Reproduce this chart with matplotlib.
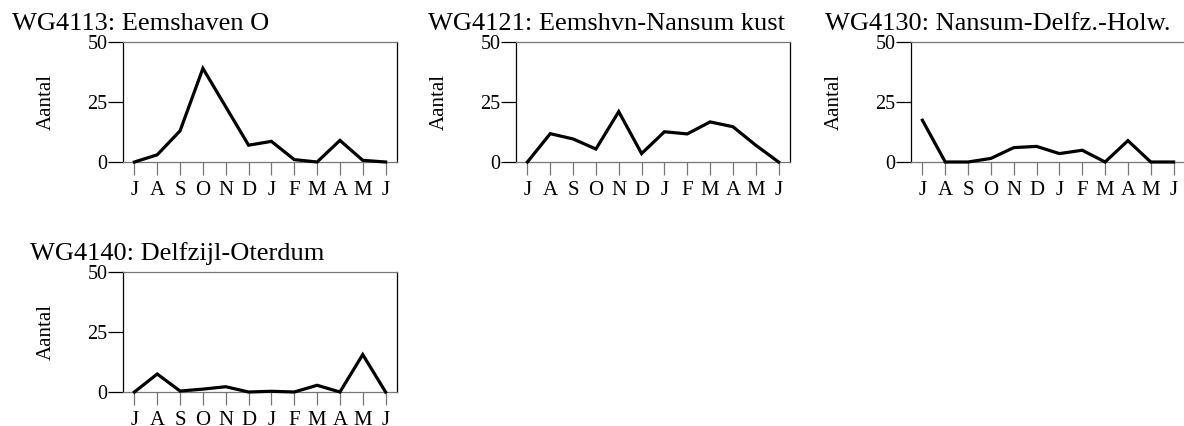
"""
Seizoensverloop per telgebied — maandelijkse aantallen.
"""

import matplotlib
matplotlib.use("Agg")
import matplotlib.pyplot as plt

plt.rcParams["font.family"] = ["Liberation Serif", "DejaVu Serif"]

months = ["J", "A", "S", "O", "N", "D", "J", "F", "M", "A", "M", "J"]

titles = [
    "WG4113: Eemshaven O",
    "WG4121: Eemshvn-Nansum kust",
    "WG4130: Nansum-Delfz.-Holw.",
    "WG4140: Delfzijl-Oterdum",
]

wg4113 = [0, 3, 13, 39, 23, 7, 8.6, 1, 0, 9, 0.7, 0]
wg4121 = [0, 11.8, 9.6, 5.4, 21, 3.5, 12.6, 11.7, 16.7, 14.7, 7, 0]
wg4130 = [17.4, 0, 0, 1.5, 6, 6.5, 3.5, 4.9, 0, 8.9, 0, 0]
wg4140 = [0, 7.5, 0.4, 1.2, 2.2, 0, 0.3, 0, 2.8, 0, 15.6, 0]

series = [wg4113, wg4121, wg4130, wg4140]

W, H = 1184, 426
# box positions in pixels: (left, top), plus title x position
boxes = [(123, 42, 12), (516, 42, 428), (911, 42, 825), (123, 272, 30)]
BOX_W, BOX_H = 274, 120

fig = plt.figure(figsize=(W / 100, H / 100), dpi=100)

for (left, top, tx), title, values in zip(boxes, titles, series):
    ax = fig.add_axes([left / W, (H - top - BOX_H) / H, BOX_W / W, BOX_H / H])
    x = list(range(len(months)))
    ax.plot(x, values, color="black", linewidth=2.3, solid_joinstyle="miter",
            clip_on=False, zorder=3)
    ax.set_xlim(-0.5, 11.5)
    ax.set_ylim(0, 50)
    ax.set_xticks(x)
    ax.set_xticklabels(months)
    ax.set_yticks([0, 25, 50])

    for side in ("top", "bottom"):
        ax.spines[side].set_color("#777777")
    for side in ("left", "right"):
        ax.spines[side].set_color("black")
    for sp in ax.spines.values():
        sp.set_linewidth(0.9)

    ax.tick_params(axis="x", length=9.4, width=0.9, color="#777777", pad=4,
                   labelsize=15)
    ax.tick_params(axis="y", length=10.5, width=0.9, color="black", pad=0.5,
                   labelsize=14.5)
    ax.set_ylabel("Aantal", fontsize=15)
    ax.yaxis.set_label_coords(-67 / BOX_W, 0.5)

    fig.text(tx / W, (H - top + 12) / H, title, fontsize=19,
             ha="left", va="baseline")

fig.savefig("out.png", dpi=100)
